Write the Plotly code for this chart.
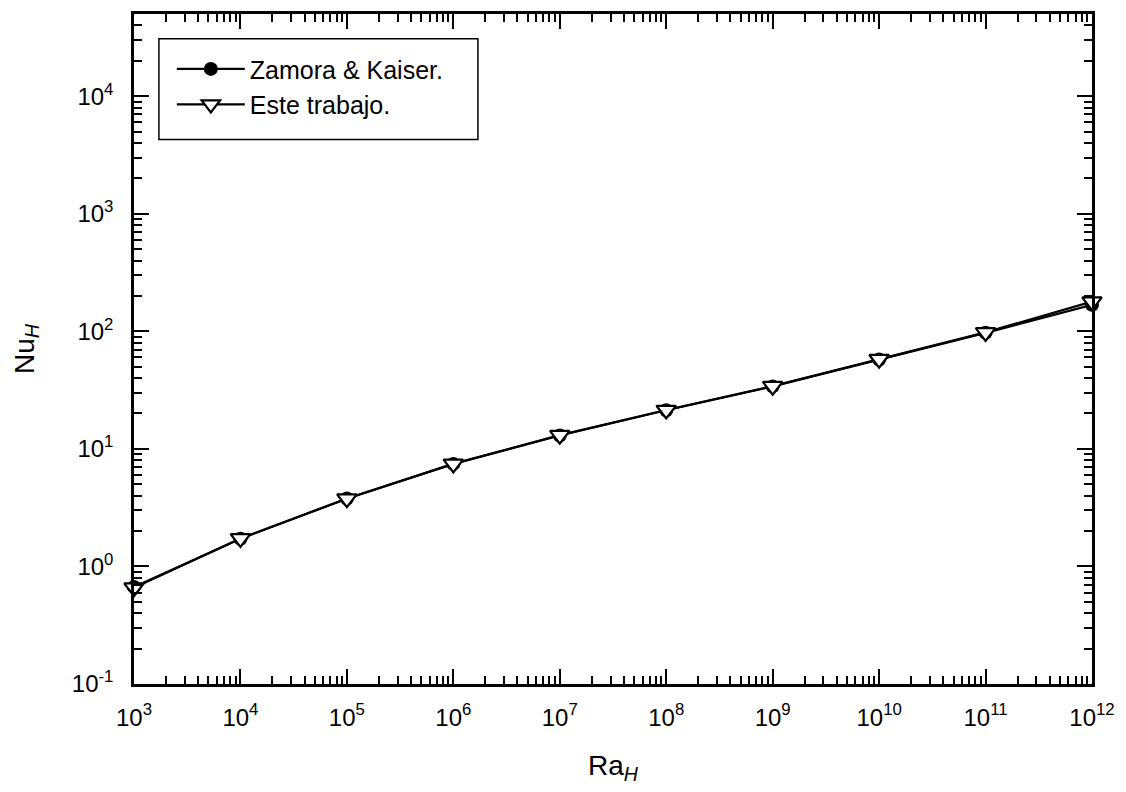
import plotly.graph_objects as go

ra = [1e3, 1e4, 1e5, 1e6, 1e7, 1e8, 1e9, 1e10, 1e11, 1e12]
nu_zamora = [0.67, 1.72, 3.78, 7.45, 13.0, 21.3, 34.0, 57.5, 97.0, 168.0]
nu_este = [0.66, 1.73, 3.77, 7.46, 13.1, 21.4, 34.2, 57.9, 98.0, 179.0]

x_tickvals = [10.0 ** k for k in range(3, 13)]
x_ticktext = ["10<sup>%d</sup>" % k for k in range(3, 13)]
y_tickvals = [10.0 ** k for k in range(-1, 5)]
y_ticktext = ["10<sup>%d</sup>" % k for k in range(-1, 5)]

x_minor = [m * 10.0 ** k for k in range(3, 12) for m in range(2, 10)]
y_minor = [m * 10.0 ** k for k in range(-1, 5) for m in range(2, 10) if m * 10.0 ** k <= 5e4]

font_family = "Liberation Sans, Arial, sans-serif"

fig = go.Figure()
fig.add_trace(go.Scatter(
    x=ra, y=nu_zamora, mode="lines+markers", name="Zamora & Kaiser.",
    line=dict(color="black", width=2.2),
    marker=dict(symbol="circle", size=14, color="black"),
    cliponaxis=False,
))
fig.add_trace(go.Scatter(
    x=ra, y=nu_este, mode="lines+markers", name="Este trabajo.",
    line=dict(color="black", width=2.2),
    marker=dict(symbol="triangle-down", size=17, color="white",
                line=dict(color="black", width=2.2)),
    cliponaxis=False,
))

axis_common = dict(
    showline=True, linecolor="black", linewidth=2.5, mirror="ticks",
    ticks="inside", ticklen=15, tickwidth=2.2, tickcolor="black",
    showgrid=False, zeroline=False,
    tickfont=dict(family=font_family, size=24, color="black"),
)

fig.update_xaxes(
    type="log", range=[2.9999, 12.0001], tickmode="array", tickvals=x_tickvals, ticktext=x_ticktext,
    ticklabelstandoff=10,
    minor=dict(tickmode="array", tickvals=x_minor, ticks="inside", ticklen=8,
               tickwidth=2, tickcolor="black", showgrid=False),
    title=dict(text="Ra<sub><i>H</i></sub>", font=dict(family=font_family, size=28, color="black"), standoff=26),
    **axis_common,
)
fig.update_yaxes(
    type="log", range=[-1, 4.699], tickmode="array", tickvals=y_tickvals, ticktext=y_ticktext,
    ticklabelstandoff=13,
    minor=dict(tickmode="array", tickvals=y_minor, ticks="inside", ticklen=8,
               tickwidth=2, tickcolor="black", showgrid=False),
    title=dict(text="Nu<sub><i>H</i></sub>", font=dict(family=font_family, size=28, color="black"), standoff=30),
    **axis_common,
)

fig.add_shape(
    type="rect", xref="paper", yref="paper",
    x0=0.026, x1=0.359, y0=0.8128, y1=0.9629,
    line=dict(color="black", width=1.5), fillcolor="white", layer="below",
)

fig.update_layout(
    width=1126, height=792,
    margin=dict(l=134, r=29, t=11, b=108),
    paper_bgcolor="white", plot_bgcolor="white",
    font=dict(family=font_family, color="black"),
    legend=dict(
        x=0.0395, y=0.952, xanchor="left", yanchor="top",
        bgcolor="rgba(0,0,0,0)", borderwidth=0,
        font=dict(family=font_family, size=25, color="black"),
        itemwidth=68,
    ),
    showlegend=True,
)

fig.write_html("out.html")
